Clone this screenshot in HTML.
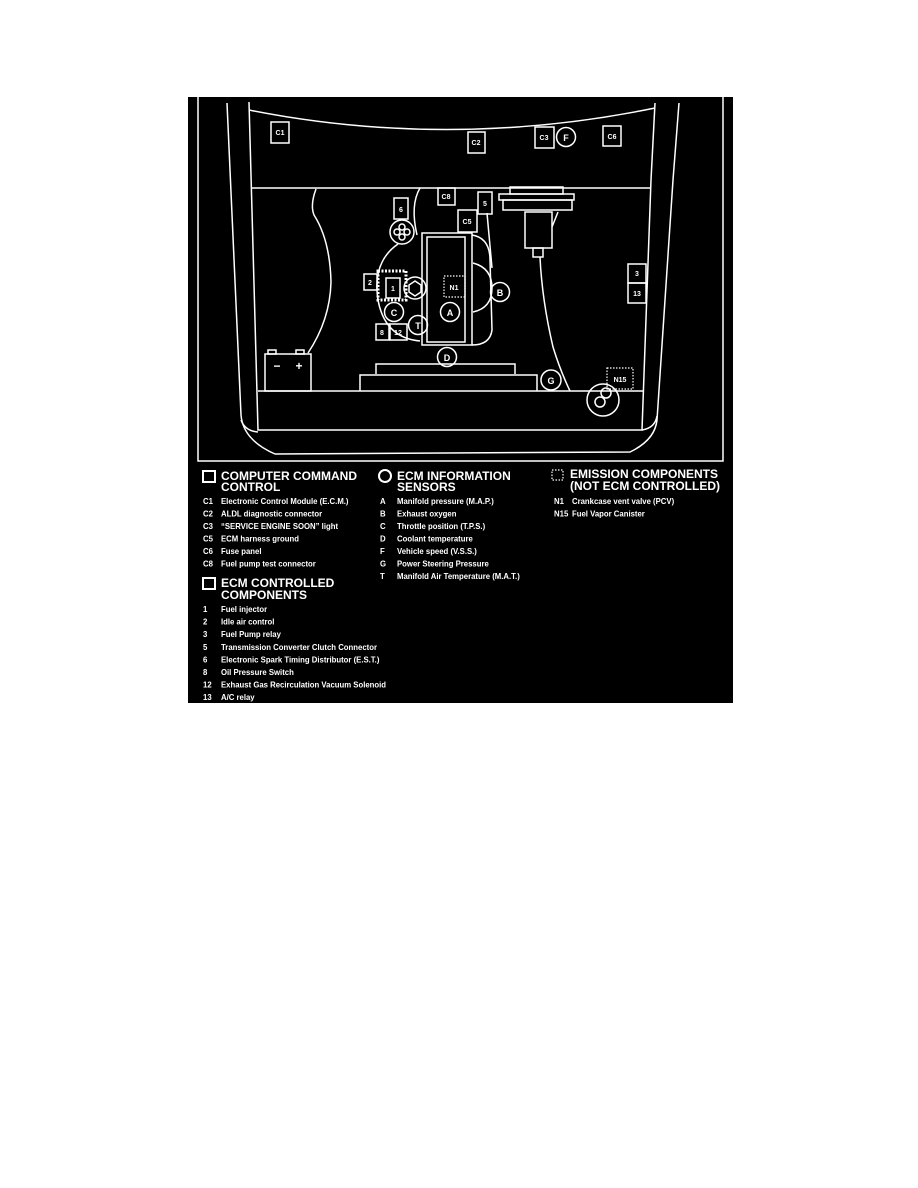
<!DOCTYPE html>
<html><head><meta charset="utf-8"><style>
html,body{margin:0;padding:0;background:#fff;width:918px;height:1188px;overflow:hidden}
svg{position:absolute;left:0;top:0}
text{font-family:"Liberation Sans",sans-serif;font-weight:bold;fill:#fff}
</style></head><body>
<svg width="918" height="1188" viewBox="0 0 918 1188">
<rect x="188" y="97" width="545" height="606" fill="#000"/>
<g fill="none" stroke="#fff" stroke-width="1.5">
<path d="M198,97 L198,461 L723,461 L723,97"/>
<path d="M227,103 L241,415 Q243,440 275,454 L630,452 Q655,440 657,420 L673,180 L679,103"/>
<path d="M249,102 L258,430 L642,430 L651,180 L655,103"/>
<path d="M241,420 Q245,431 258,432"/>
<path d="M642,430 Q655,428 657,416"/>
<path d="M249,110 Q450,150 655,108"/>
<path d="M252,188 L651,188"/>
<path d="M258,391 L643,391"/>
<path d="M316,189 Q310,205 314,215 Q330,240 331,282 Q330,320 308,353"/>
<rect x="265" y="354" width="46" height="37"/>
<rect x="268" y="350" width="8" height="4"/>
<rect x="296" y="350" width="8" height="4"/>
<rect x="271" y="122" width="18" height="21"/>
<rect x="468" y="132" width="17" height="21"/>
<rect x="535" y="127" width="19" height="21"/>
<circle cx="566" cy="137" r="9.5"/>
<rect x="603" y="126" width="18" height="20"/>
<path d="M420,188 Q410,205 417,235"/>
<rect x="394" y="198" width="14" height="21"/>
<circle cx="402" cy="232" r="12"/>
<circle cx="397" cy="232" r="3"/><circle cx="407" cy="232" r="3"/><circle cx="402" cy="227" r="3"/><circle cx="402" cy="237" r="3"/>
<path d="M398,244 Q372,262 378,300 Q385,338 420,341"/>
<rect x="422" y="233" width="50" height="112"/>
<rect x="427" y="237" width="38" height="105"/>
<path d="M472,235 Q490,238 490,260 L492,330 Q490,345 472,345"/>
<path d="M473,263 Q492,268 492,288 Q492,308 473,312"/>
<path d="M487,213 L492,268"/>
<rect x="438" y="188" width="17" height="17"/>
<rect x="478" y="192" width="14" height="22"/>
<rect x="458" y="210" width="19" height="22"/>
<rect x="364" y="274" width="13" height="16"/>
<rect x="378" y="271" width="28" height="29" stroke-dasharray="2,1.5" stroke-width="3"/>
<rect x="386" y="278" width="14" height="20"/>
<circle cx="415" cy="288" r="11"/>
<polygon points="415,281 421,285 421,292 415,296 409,292 409,285"/>
<rect x="444" y="276" width="21" height="21" stroke-dasharray="1.5,1.5" stroke-width="1.2"/>
<circle cx="450" cy="312" r="9.5"/>
<circle cx="500" cy="292" r="9.5"/>
<circle cx="394" cy="312" r="9.5"/>
<circle cx="418" cy="325" r="9.5"/>
<rect x="376" y="324" width="13" height="16"/>
<rect x="390" y="324" width="17" height="16"/>
<circle cx="447" cy="357" r="9.5"/>
<path d="M376,374 L376,364 L515,364 L515,374"/>
<path d="M360,391 L360,375 L537,375 L537,391"/>
<circle cx="551" cy="380" r="10"/>
<rect x="510" y="187" width="53" height="7"/>
<rect x="499" y="194" width="75" height="6"/>
<rect x="503" y="200" width="69" height="10"/>
<rect x="525" y="212" width="27" height="36"/>
<rect x="533" y="248" width="10" height="9"/>
<path d="M558,212 L552,227"/>
<path d="M540,257 Q542,300 553,347 Q560,370 570,391"/>
<rect x="628" y="264" width="18" height="19"/>
<rect x="628" y="283" width="18" height="20"/>
<rect x="607" y="368" width="26" height="21" stroke-dasharray="1.5,1.5" stroke-width="1.2"/>
<circle cx="603" cy="400" r="16"/>
<circle cx="600" cy="402" r="5"/>
<circle cx="606" cy="393" r="5"/>
<rect x="203" y="471" width="12" height="11" stroke-width="2"/>
<rect x="203" y="578" width="12" height="11" stroke-width="2"/>
<circle cx="385" cy="476" r="6" stroke-width="2"/>
<rect x="552" y="470" width="11" height="10" stroke-dasharray="1.5,1.5" stroke-width="1.2"/>
</g>
<g font-size="7" text-anchor="middle">
<text x="280" y="135">C1</text>
<text x="476" y="145">C2</text>
<text x="544" y="140">C3</text>
<text x="612" y="139">C6</text>
<text x="566" y="141" font-size="9">F</text>
<text x="401" y="212">6</text>
<text x="446" y="199">C8</text>
<text x="485" y="206">5</text>
<text x="467" y="224">C5</text>
<text x="370" y="285">2</text>
<text x="393" y="291">1</text>
<text x="454" y="290">N1</text>
<text x="450" y="316" font-size="9">A</text>
<text x="500" y="296" font-size="9">B</text>
<text x="394" y="316" font-size="9">C</text>
<text x="418" y="329" font-size="9">T</text>
<text x="382" y="335">8</text>
<text x="398" y="335">12</text>
<text x="447" y="361" font-size="9">D</text>
<text x="551" y="384" font-size="9">G</text>
<text x="637" y="276">3</text>
<text x="637" y="296">13</text>
<text x="620" y="382">N15</text>
<text x="277" y="370" font-size="12" font-weight="normal">−</text>
<text x="299" y="370" font-size="12" font-weight="normal">+</text>
</g>
<g font-size="12">
<text x="221" y="480">COMPUTER COMMAND</text>
<text x="221" y="491">CONTROL</text>
<text x="221" y="587">ECM CONTROLLED</text>
<text x="221" y="599">COMPONENTS</text>
<text x="397" y="480">ECM INFORMATION</text>
<text x="397" y="491">SENSORS</text>
<text x="570" y="478">EMISSION COMPONENTS</text>
<text x="570" y="490">(NOT ECM CONTROLLED)</text>
</g>
<g font-size="7.8">
<text x="203" y="504">C1</text><text x="203" y="516.5">C2</text><text x="203" y="529">C3</text><text x="203" y="541.5">C5</text><text x="203" y="554">C6</text><text x="203" y="566.5">C8</text>
<text x="203" y="612">1</text><text x="203" y="624.6">2</text><text x="203" y="637.2">3</text><text x="203" y="649.8">5</text><text x="203" y="662.4">6</text><text x="203" y="675">8</text><text x="203" y="687.6">12</text><text x="203" y="700.2">13</text>
<text x="380" y="504">A</text><text x="380" y="516.5">B</text><text x="380" y="529">C</text><text x="380" y="541.5">D</text><text x="380" y="554">F</text><text x="380" y="566.5">G</text><text x="380" y="579">T</text>
<text x="554" y="504">N1</text><text x="554" y="516.5">N15</text>
</g>
<g font-size="8" transform="translate(221 0) scale(0.97 1)">
<text x="0" y="504">Electronic Control Module (E.C.M.)</text>
<text x="0" y="516.5">ALDL diagnostic connector</text>
<text x="0" y="529">“SERVICE ENGINE SOON” light</text>
<text x="0" y="541.5">ECM harness ground</text>
<text x="0" y="554">Fuse panel</text>
<text x="0" y="566.5">Fuel pump test connector</text>
<text x="0" y="612">Fuel injector</text>
<text x="0" y="624.6">Idle air control</text>
<text x="0" y="637.2">Fuel Pump relay</text>
<text x="0" y="649.8">Transmission Converter Clutch Connector</text>
<text x="0" y="662.4">Electronic Spark Timing Distributor (E.S.T.)</text>
<text x="0" y="675">Oil Pressure Switch</text>
<text x="0" y="687.6">Exhaust Gas Recirculation Vacuum Solenoid</text>
<text x="0" y="700.2">A/C relay</text>
</g>
<g font-size="8" transform="translate(397 0) scale(0.97 1)">
<text x="0" y="504">Manifold pressure (M.A.P.)</text>
<text x="0" y="516.5">Exhaust oxygen</text>
<text x="0" y="529">Throttle position (T.P.S.)</text>
<text x="0" y="541.5">Coolant temperature</text>
<text x="0" y="554">Vehicle speed (V.S.S.)</text>
<text x="0" y="566.5">Power Steering Pressure</text>
<text x="0" y="579">Manifold Air Temperature (M.A.T.)</text>
</g>
<g font-size="8" transform="translate(572 0) scale(0.97 1)">
<text x="0" y="504">Crankcase vent valve (PCV)</text>
<text x="0" y="516.5">Fuel Vapor Canister</text>
</g>
</svg>
</body></html>
